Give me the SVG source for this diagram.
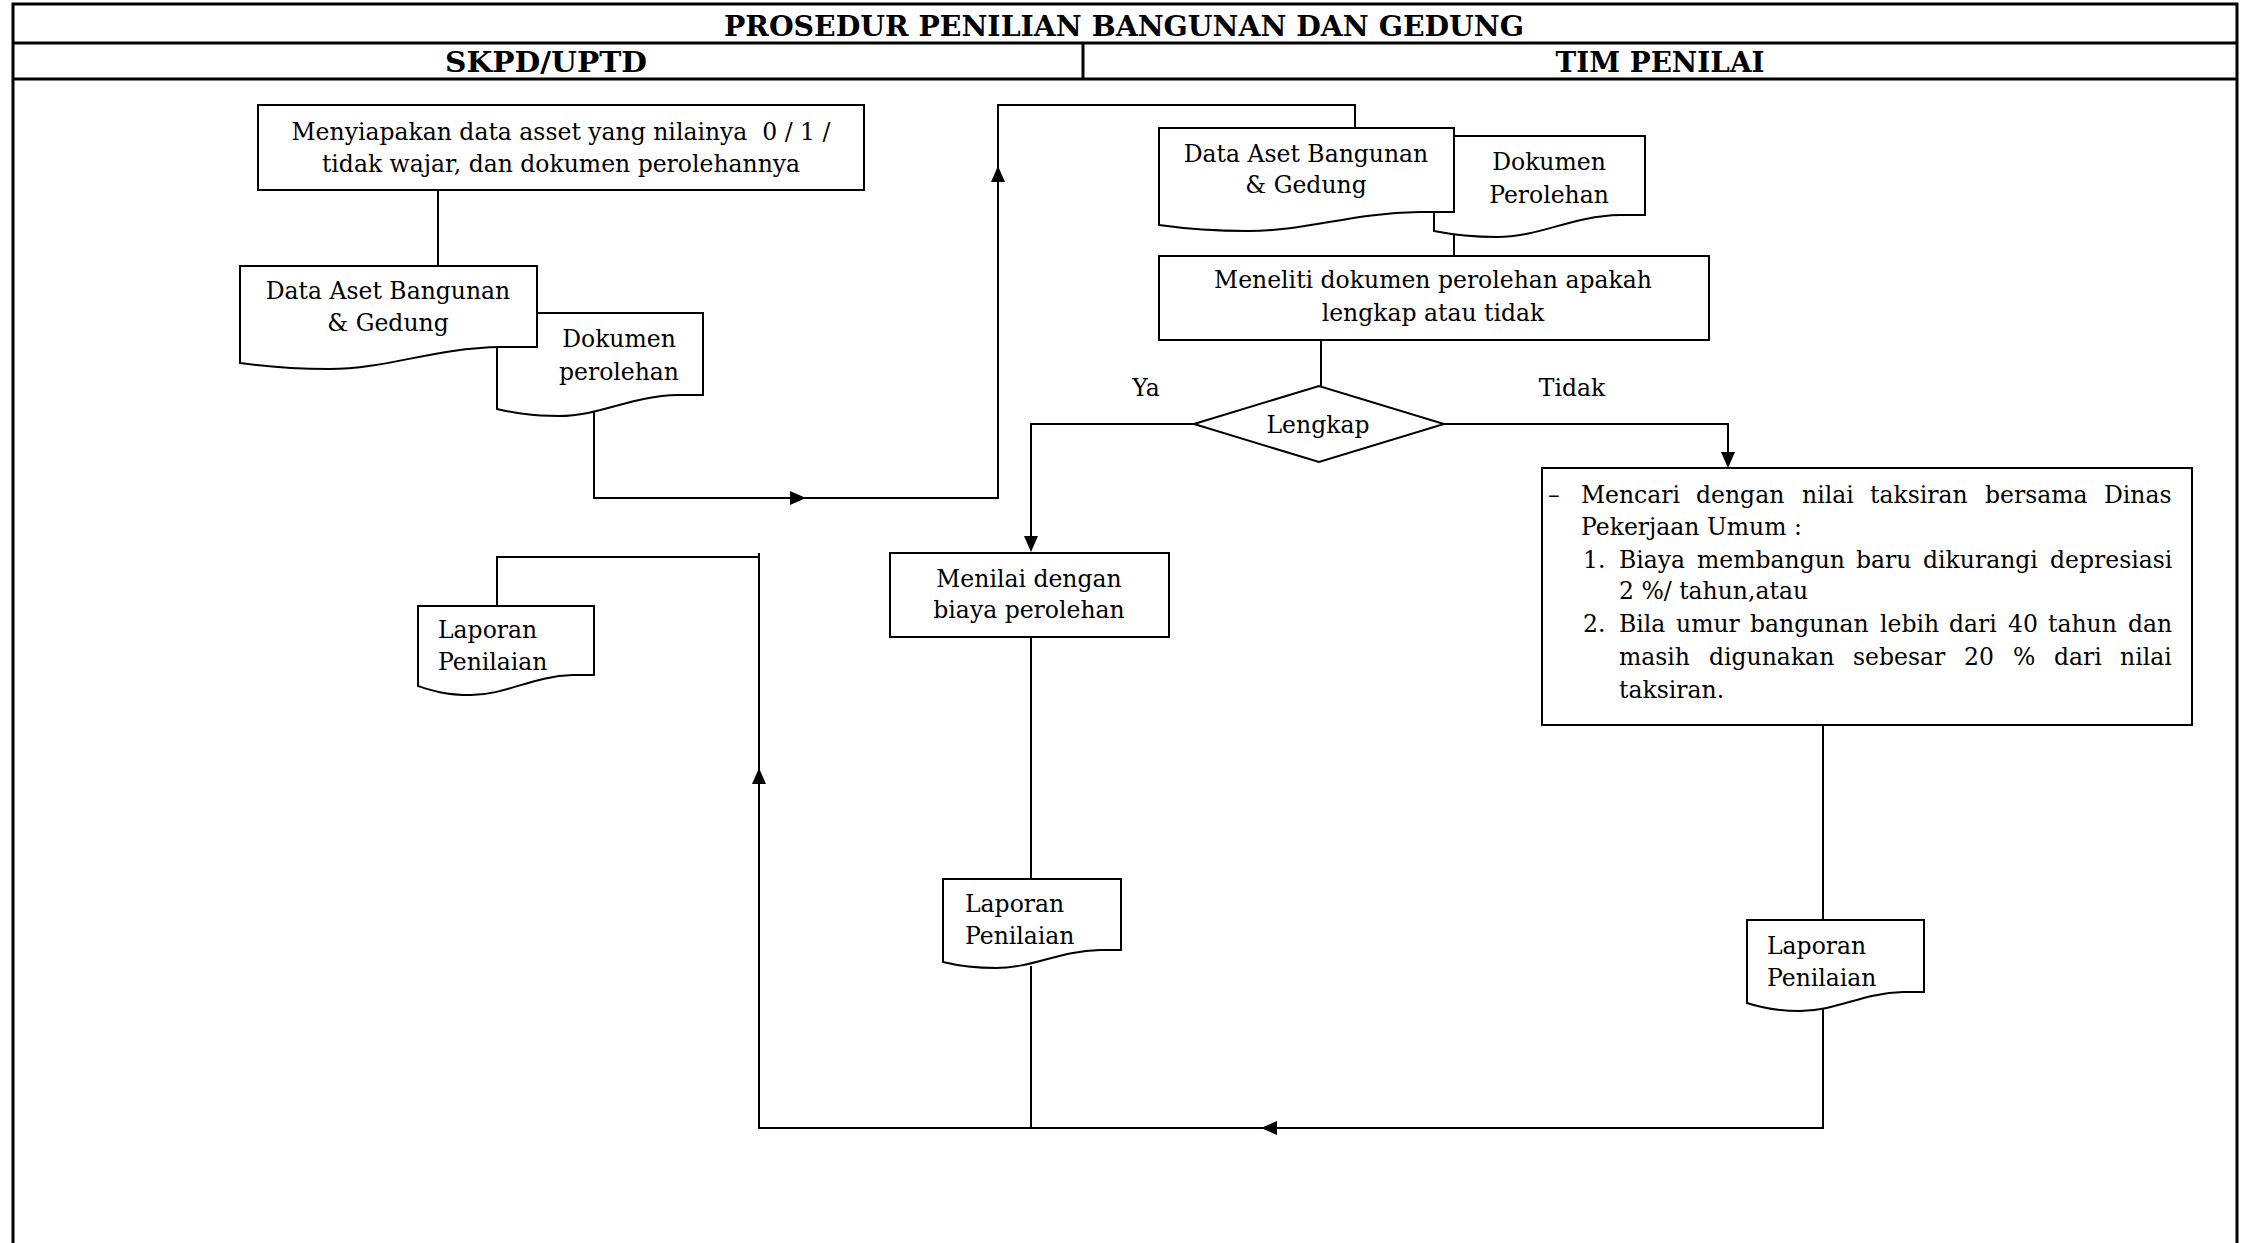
<svg xmlns="http://www.w3.org/2000/svg" xmlns:xlink="http://www.w3.org/1999/xlink" width="2251" height="1243" viewBox="0 0 2251 1243">
<style>
.frame{fill:none;stroke:#000;stroke-width:3}
.box{fill:#fff;stroke:#000;stroke-width:2}
.ln{fill:none;stroke:#000;stroke-width:2}
.t{font-family:"DejaVu Serif","Liberation Serif",serif;font-size:23.5px;fill:#000}
.c{text-anchor:middle}
.h{font-family:"DejaVu Serif","Liberation Serif",serif;font-weight:bold;font-size:28px;fill:#000;text-anchor:middle}
</style>
<defs>
<path id="ar" d="M0,0 L-16,-7 L-16,7 Z" fill="#000"/>
</defs>
<rect width="2251" height="1243" fill="#fff"/>
<g id="table">
<path class="frame" d="M13,1243 V4 H2237 V1243"/>
<line class="frame" x1="13" y1="43" x2="2237" y2="43"/>
<line class="frame" x1="13" y1="79" x2="2237" y2="79"/>
<line class="frame" x1="1083" y1="43" x2="1083" y2="79"/>
<text class="h" x="1124" y="36" textLength="800" lengthAdjust="spacingAndGlyphs">PROSEDUR PENILIAN BANGUNAN DAN GEDUNG</text>
<text class="h" x="546" y="72" textLength="202" lengthAdjust="spacingAndGlyphs">SKPD/UPTD</text>
<text class="h" x="1660" y="72" textLength="209" lengthAdjust="spacingAndGlyphs">TIM PENILAI</text>
</g>
<g id="connectors">
<line class="ln" x1="438" y1="190" x2="438" y2="266"/>
<path class="ln" d="M594,404 V498 H998 V105 H1355 V128"/>
<use xlink:href="#ar" transform="translate(806,498)"/>
<use xlink:href="#ar" transform="translate(998,166) rotate(-90)"/>
<line class="ln" x1="1454" y1="222" x2="1454" y2="256"/>
<line class="ln" x1="1321" y1="340" x2="1321" y2="386"/>
<path class="ln" d="M1194,424 H1031 V540"/>
<use xlink:href="#ar" transform="translate(1031,552) rotate(90)"/>
<path class="ln" d="M1444,424 H1728 V456"/>
<use xlink:href="#ar" transform="translate(1728,468) rotate(90)"/>
<line class="ln" x1="1031" y1="637" x2="1031" y2="879"/>
<line class="ln" x1="1031" y1="966" x2="1031" y2="1128"/>
<line class="ln" x1="1823" y1="725" x2="1823" y2="920"/>
<path class="ln" d="M1823,1009 V1128 H759 V553"/>
<use xlink:href="#ar" transform="translate(1261,1128) rotate(180)"/>
<use xlink:href="#ar" transform="translate(759,768) rotate(-90)"/>
<path class="ln" d="M759,557 H497 V606"/>
</g>
<g id="n1">
<rect class="box" x="258" y="105" width="606" height="85"/>
<text class="t c" x="561" y="140" xml:space="preserve">Menyiapakan data asset yang nilainya  0 / 1 /</text>
<text class="t c" x="561" y="172">tidak wajar, dan dokumen perolehannya</text>
</g>
<g id="n3">
<path class="box" d="M497,313 H703 V395 L678,395 C631,396 600,416 559,416 C528,416 511,412 497,409 Z"/>
<text class="t c" x="619" y="347">Dokumen</text>
<text class="t c" x="619" y="380">perolehan</text>
</g>
<g id="n2">
<path class="box" d="M240,266 H537 V347 L501,347 C433,348 388,369 329,369 C285,369 261,366 240,363 Z"/>
<text class="t c" x="388" y="299">Data Aset Bangunan</text>
<text class="t c" x="388" y="331">&amp; Gedung</text>
</g>
<g id="n5">
<path class="box" d="M1434,136 H1645 V215 L1620,215 C1571,216 1540,237 1497,237 C1466,237 1449,234 1434,231 Z"/>
<text class="t c" x="1549" y="170">Dokumen</text>
<text class="t c" x="1549" y="203">Perolehan</text>
</g>
<g id="n4">
<path class="box" d="M1159,128 H1454 V212 L1419,212 C1351,213 1307,231 1248,231 C1203,231 1180,228 1159,225 Z"/>
<text class="t c" x="1306" y="162">Data Aset Bangunan</text>
<text class="t c" x="1306" y="193">&amp; Gedung</text>
</g>
<g id="n6">
<rect class="box" x="1159" y="256" width="550" height="84"/>
<text class="t c" x="1433" y="288">Meneliti dokumen perolehan apakah</text>
<text class="t c" x="1433" y="321">lengkap atau tidak</text>
</g>
<g id="n7">
<path class="box" d="M1194,424 L1319,386 L1444,424 L1319,462 Z"/>
<text class="t c" x="1318" y="433">Lengkap</text>
</g>
<text class="t c" x="1146" y="396">Ya</text>
<text class="t c" x="1572" y="396">Tidak</text>
<g id="n8">
<rect class="box" x="890" y="553" width="279" height="84"/>
<text class="t c" x="1029" y="587">Menilai dengan</text>
<text class="t c" x="1029" y="618">biaya perolehan</text>
</g>
<g id="n9">
<rect class="box" x="1542" y="468" width="650" height="257"/>
<text class="t" x="1548" y="503">–</text>
<text class="t" y="503"><tspan x="1581">Mencari</tspan><tspan x="1696">dengan</tspan><tspan x="1802">nilai</tspan><tspan x="1870">taksiran</tspan><tspan x="1985">bersama</tspan><tspan x="2104">Dinas</tspan></text>
<text class="t" x="1581" y="535">Pekerjaan Umum :</text>
<text class="t" x="1583" y="568">1.</text>
<text class="t" y="568"><tspan x="1619">Biaya</tspan><tspan x="1697">membangun</tspan><tspan x="1856">baru</tspan><tspan x="1923">dikurangi</tspan><tspan x="2050">depresiasi</tspan></text>
<text class="t" x="1619" y="599">2 %/ tahun,atau</text>
<text class="t" x="1583" y="632">2.</text>
<text class="t" y="632"><tspan x="1619">Bila</tspan><tspan x="1676">umur</tspan><tspan x="1750">bangunan</tspan><tspan x="1880">lebih</tspan><tspan x="1949">dari</tspan><tspan x="2008">40</tspan><tspan x="2048">tahun</tspan><tspan x="2128">dan</tspan></text>
<text class="t" y="665"><tspan x="1619">masih</tspan><tspan x="1709">digunakan</tspan><tspan x="1853">sebesar</tspan><tspan x="1964">20</tspan><tspan x="2013">%</tspan><tspan x="2054">dari</tspan><tspan x="2120">nilai</tspan></text>
<text class="t" x="1619" y="698">taksiran.</text>
</g>
<g id="n10">
<path class="box" d="M418,606 H594 V675 L573,675 C532,676 506,695 471,695 C444,695 430,690 418,686 Z"/>
<text class="t" x="438" y="638">Laporan</text>
<text class="t" x="438" y="670">Penilaian</text>
</g>
<g id="n11">
<path class="box" d="M943,879 H1121 V950 L1100,950 C1059,951 1032,968 996,968 C970,968 955,965 943,962 Z"/>
<text class="t" x="965" y="912">Laporan</text>
<text class="t" x="965" y="944">Penilaian</text>
</g>
<g id="n12">
<path class="box" d="M1747,920 H1924 V992 L1903,992 C1862,993 1836,1011 1800,1011 C1774,1011 1759,1007 1747,1003 Z"/>
<text class="t" x="1767" y="954">Laporan</text>
<text class="t" x="1767" y="986">Penilaian</text>
</g>
</svg>
